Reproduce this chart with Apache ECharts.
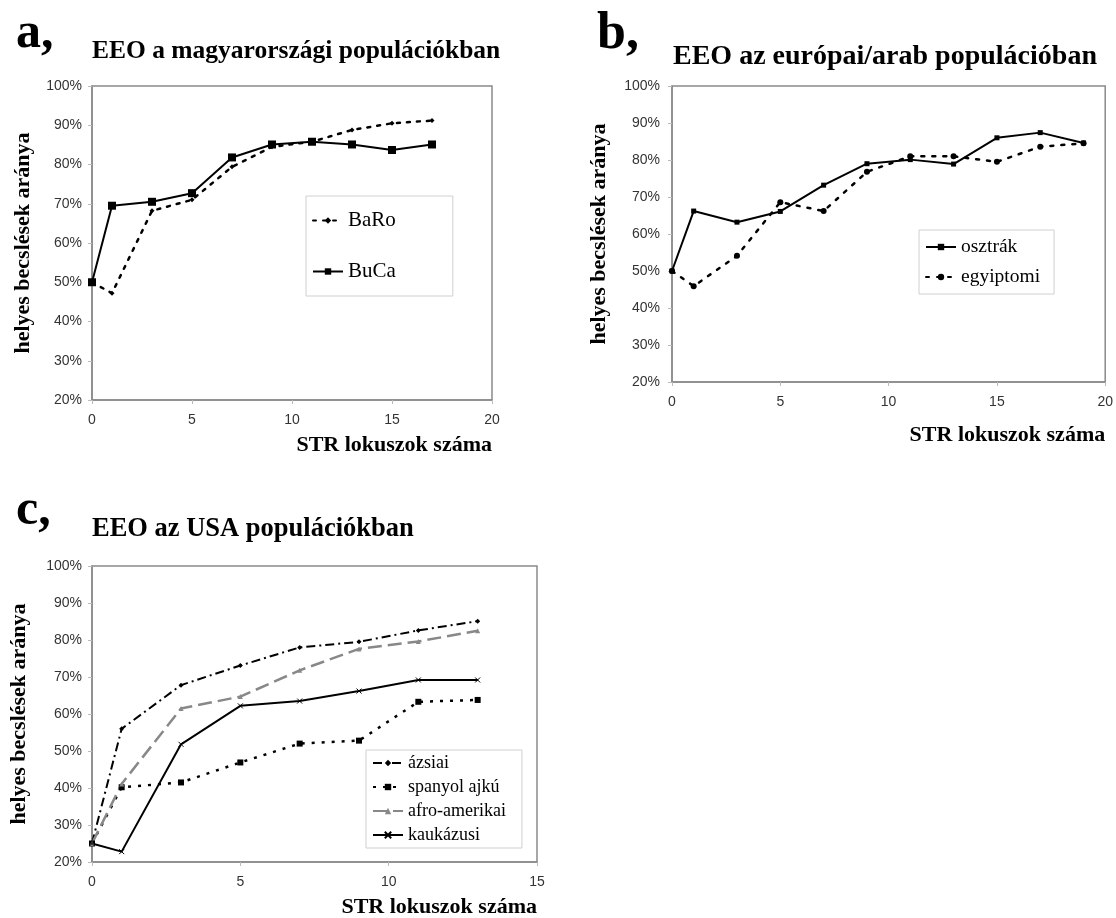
<!DOCTYPE html>
<html>
<head>
<meta charset="utf-8">
<script src="https://cdn.jsdelivr.net/npm/echarts@6/dist/echarts.min.js"></script>
<style>
html,body{margin:0;padding:0;background:#fff;}
#main{width:1116px;height:918px;}
</style>
</head>
<body>
<div id="main"></div>
<script>
// ---- data ----
const panelLetters = ['a,', 'b,', 'c,'];
const panelTitles = ['EEO a magyarországi populációkban', 'EEO az európai/arab populációban', 'EEO az USA populációkban'];
const xAxisTitle = 'STR lokuszok száma';
const yAxisTitle = 'helyes becslések aránya';

const lociA = [0, 1, 3, 5, 7, 9, 11, 13, 15, 17];
const baRo = [50, 47.2, 68.2, 71, 79.4, 84.5, 85.8, 88.8, 90.5, 91.2];
const buCa = [50, 69.5, 70.5, 72.7, 81.8, 85.1, 85.8, 85.1, 83.7, 85.1];

const lociB = [0, 1, 3, 5, 7, 9, 11, 13, 15, 17, 19];
const osztrak = [50, 66.2, 63.2, 66.1, 73.2, 79, 80.1, 78.9, 86, 87.4, 84.6];
const egyiptomi = [50, 45.9, 54.1, 68.6, 66.2, 76.8, 81, 81, 79.5, 83.6, 84.5];

const lociC = [0, 1, 3, 5, 7, 9, 11, 13];
const azsiai = [25.1, 56, 67.8, 73.1, 78, 79.5, 82.6, 85.1];
const spanyol = [25, 40.2, 41.5, 46.9, 52, 52.8, 63.3, 63.8];
const afro = [25, 41.1, 61.5, 64.7, 71.8, 77.6, 79.6, 82.5];
const kaukazusi = [25, 22.8, 51.8, 62.2, 63.5, 66.2, 69.2, 69.2];

const xMax = [20, 20, 15];
const xStep = 5;
const yTicks = { min: 20, max: 100, step: 10 };

// ---- helpers ----
const zip = (xs, ys) => xs.map((x, i) => [x, ys[i]]);
const SERIF = 'Liberation Serif';
const SANS = 'Liberation Sans';
const gridColor = '#8a8a8a';

const grids = [
  { left: 92, top: 86, width: 400, height: 314 },
  { left: 672, top: 86, width: 437, height: 296 },
  { left: 92, top: 566, width: 445, height: 296 }
];
const yNameGap = [58, 62, 62];
const xNamePad = [34, 42, 34];
const yLabelMargin = [10, 12, 10];

function xAxisFor(i) {
  return {
    type: 'value', gridIndex: i, min: 0, max: xMax[i], interval: xStep,
    axisLine: { show: true, lineStyle: { color: gridColor, width: 1.5 } },
    axisTick: { show: true, length: 4, lineStyle: { color: '#bbb' } },
    axisLabel: { fontFamily: SANS, fontSize: 14, color: '#333', margin: 13 },
    splitLine: { show: false },
    name: xAxisTitle, nameLocation: 'end', nameGap: 0,
    nameTextStyle: { fontFamily: SERIF, fontWeight: 'bold', fontSize: 22, color: '#000',
      align: 'right', verticalAlign: 'top', padding: [xNamePad[i], 0, 0, 0] }
  };
}
function yAxisFor(i) {
  return {
    type: 'value', gridIndex: i, min: yTicks.min, max: yTicks.max, interval: yTicks.step,
    axisLine: { show: true, lineStyle: { color: gridColor, width: 1.5 } },
    axisTick: { show: true, length: 4, lineStyle: { color: '#bbb' } },
    axisLabel: { fontFamily: SANS, fontSize: 14, color: '#333', margin: yLabelMargin[i], formatter: '{value}%' },
    splitLine: { show: false },
    name: yAxisTitle, nameLocation: 'middle', nameRotate: 90, nameGap: yNameGap[i],
    nameTextStyle: { fontFamily: SERIF, fontWeight: 'bold', fontSize: 22, color: '#000' }
  };
}

const crossPath = 'path://M0,0L10,10M10,0L0,10';

const series = [
  { name: 'BaRo', type: 'line', xAxisIndex: 0, yAxisIndex: 0, data: zip(lociA, baRo),
    symbol: 'diamond', symbolSize: 5, color: '#000',
    lineStyle: { color: '#000', width: 2.5, type: [3, 7], cap: 'round' } },
  { name: 'BuCa', type: 'line', xAxisIndex: 0, yAxisIndex: 0, data: zip(lociA, buCa),
    symbol: 'rect', symbolSize: 8, color: '#000',
    lineStyle: { color: '#000', width: 2 } },

  { name: 'osztrák', type: 'line', xAxisIndex: 1, yAxisIndex: 1, data: zip(lociB, osztrak),
    symbol: 'rect', symbolSize: 5, color: '#000',
    lineStyle: { color: '#000', width: 2 } },
  { name: 'egyiptomi', type: 'line', xAxisIndex: 1, yAxisIndex: 1, data: zip(lociB, egyiptomi),
    symbol: 'circle', symbolSize: 6, color: '#000',
    lineStyle: { color: '#000', width: 2.5, type: [3, 8], cap: 'round' } },

  { name: 'ázsiai', type: 'line', xAxisIndex: 2, yAxisIndex: 2, data: zip(lociC, azsiai),
    symbol: 'diamond', symbolSize: 5, color: '#000',
    lineStyle: { color: '#000', width: 2, type: [9, 4, 2, 4] } },
  { name: 'spanyol ajkú', type: 'line', xAxisIndex: 2, yAxisIndex: 2, data: zip(lociC, spanyol),
    symbol: 'rect', symbolSize: 6, color: '#000',
    lineStyle: { color: '#000', width: 2.5, type: [3, 7] } },
  { name: 'afro-amerikai', type: 'line', xAxisIndex: 2, yAxisIndex: 2, data: zip(lociC, afro),
    symbol: 'triangle', symbolSize: 5, color: '#888',
    lineStyle: { color: '#888', width: 2.5, type: [14, 6] } },
  { name: 'kaukázusi', type: 'line', xAxisIndex: 2, yAxisIndex: 2, data: zip(lociC, kaukazusi),
    symbol: crossPath, symbolSize: 5, color: '#000',
    itemStyle: { borderColor: '#000', borderWidth: 1 },
    lineStyle: { color: '#000', width: 2 } }
];
series.forEach(s => { s.animation = false; s.showSymbol = true; });

const legendBase = {
  orient: 'vertical', backgroundColor: '#fff', borderColor: '#d0d0d0', borderWidth: 1,
  borderRadius: 0, itemWidth: 30, itemHeight: 8, selectedMode: false
};

const letterStyle = { fontFamily: SERIF, fontWeight: 'bold', color: '#000' };
const titleStyle = { fontFamily: SERIF, fontWeight: 'bold', color: '#000' };

const option = {
  backgroundColor: '#fff',
  animation: false,
  title: [
    { text: panelLetters[0], left: 16, top: 9, padding: 0, textStyle: Object.assign({ fontSize: 50 }, letterStyle) },
    { text: panelLetters[1], left: 597, top: 9, padding: 0, textStyle: Object.assign({ fontSize: 52 }, letterStyle) },
    { text: panelLetters[2], left: 16, top: 486, padding: 0, textStyle: Object.assign({ fontSize: 50 }, letterStyle) },
    { text: panelTitles[0], left: 92, top: 38, padding: 0, textStyle: Object.assign({ fontSize: 25.5 }, titleStyle) },
    { text: panelTitles[1], left: 673, top: 43, padding: 0, textStyle: Object.assign({ fontSize: 28 }, titleStyle) },
    { text: panelTitles[2], left: 92, top: 516, padding: 0, textStyle: Object.assign({ fontSize: 26.5 }, titleStyle) }
  ],
  grid: grids.map(g => Object.assign({ show: true, borderColor: gridColor, borderWidth: 1.5, backgroundColor: '#fff' }, g)),
  xAxis: [0, 1, 2].map(xAxisFor),
  yAxis: [0, 1, 2].map(yAxisFor),
  legend: [
    Object.assign({}, legendBase, { data: ['BaRo', 'BuCa'], left: 306, top: 196,
      padding: [14, 57, 14, 6], itemGap: 30,
      textStyle: { fontFamily: SERIF, fontSize: 21, color: '#000' } }),
    Object.assign({}, legendBase, { data: ['osztrák', 'egyiptomi'], left: 919, top: 230,
      padding: [7, 14, 7, 6], itemGap: 10,
      textStyle: { fontFamily: SERIF, fontSize: 19.5, color: '#000' } }),
    Object.assign({}, legendBase, { data: ['ázsiai', 'spanyol ajkú', 'afro-amerikai', 'kaukázusi'], left: 366, top: 750,
      padding: [4, 16, 4, 6], itemGap: 6,
      textStyle: { fontFamily: SERIF, fontSize: 18, color: '#000' } })
  ],
  series: series
};

const chart = echarts.init(document.getElementById('main'), null, { renderer: 'canvas' });
chart.setOption(option);
</script>
</body>
</html>
